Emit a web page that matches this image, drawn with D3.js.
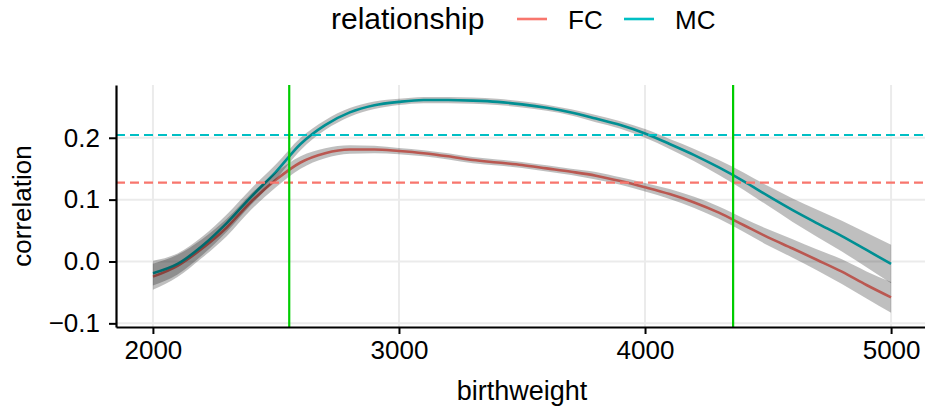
<!DOCTYPE html>
<html><head><meta charset="utf-8">
<script src="https://cdn.jsdelivr.net/npm/d3@7"></script>
<style>
body{margin:0;background:#fff}
svg{display:block}
text{font-family:"Liberation Sans",Arial,Helvetica,sans-serif;fill:#000}
</style>
</head><body>
<svg id="chart" width="925" height="411"></svg>
<script>
// ---- data ----
const birthweight = [2000,2100,2200,2300,2400,2500,2600,2700,2800,2900,3000,3100,3200,3300,3400,3500,3600,3700,3800,3900,4000,4100,4200,4300,4400,4500,4600,4700,4800,4900,5000];
const mcCorr = [-0.019,-0.004,0.025,0.062,0.105,0.145,0.190,0.2205,0.241,0.2525,0.258,0.261,0.261,0.260,0.258,0.254,0.2485,0.241,0.231,0.2205,0.207,0.190,0.172,0.152,0.130,0.106,0.083,0.0617,0.041,0.0186,-0.004];
const mcHalfWidth = [0.020,0.017,0.015,0.014,0.013,0.012,0.010,0.008,0.007,0.006,0.005,0.005,0.005,0.005,0.005,0.005,0.005,0.005,0.006,0.006,0.007,0.008,0.010,0.012,0.014,0.016,0.019,0.022,0.025,0.028,0.031];
const fcCorr = [-0.0245,-0.007,0.021,0.055,0.097,0.132,0.160,0.175,0.181,0.181,0.1785,0.175,0.170,0.164,0.160,0.156,0.1505,0.145,0.1387,0.130,0.120,0.109,0.0955,0.079,0.059,0.039,0.021,0.0024,-0.0165,-0.038,-0.058];
const fcHalfWidth = [0.021,0.018,0.015,0.014,0.013,0.012,0.010,0.008,0.007,0.006,0.005,0.005,0.005,0.005,0.005,0.005,0.005,0.005,0.006,0.006,0.007,0.008,0.009,0.010,0.011,0.013,0.015,0.017,0.020,0.022,0.025];
const seriesNames = ["FC","MC"];
const seriesColors = ["#F8766D","#00BFC4"];
const meanCorr = [0.1274, 0.2045];      // dashed reference lines (FC, MC)
const cutoffs = [2554, 4358];           // green vertical lines
const xTicks = [2000,3000,4000,5000];
const yTicks = [-0.1,0.0,0.1,0.2];
const xTitle = "birthweight", yTitle = "correlation", legendTitle = "relationship";

// ---- layout ----
const svg = d3.select("#chart");
const panel = {left:116, right:928, top:85, bottom:327};
const x = d3.scaleLinear().domain([1850,5150]).range([panel.left, panel.right]);
const y = d3.scaleLinear().domain([-0.1059,0.2853]).range([panel.bottom, panel.top]);

const series = [
  {name:seriesNames[0], color:seriesColors[0], values:fcCorr, hw:fcHalfWidth},
  {name:seriesNames[1], color:seriesColors[1], values:mcCorr, hw:mcHalfWidth}
];

// grid
const grid = svg.append("g");
grid.selectAll(".gx").data(xTicks).join("line")
  .attr("x1", d=>x(d)).attr("x2", d=>x(d)).attr("y1", panel.top).attr("y2", panel.bottom)
  .attr("stroke","#ebebeb").attr("stroke-width",2);
grid.selectAll(".gy").data(yTicks).join("line")
  .attr("x1", panel.left).attr("x2", panel.right).attr("y1", d=>y(d)).attr("y2", d=>y(d))
  .attr("stroke","#ebebeb").attr("stroke-width",2);

// lines
const line = d3.line().curve(d3.curveMonotoneX).x((d,i)=>x(birthweight[i])).y(d=>y(d));
svg.append("g").selectAll("path").data(series).join("path")
  .attr("d", s=>line(s.values)).attr("fill","none")
  .attr("stroke", s=>s.color).attr("stroke-width",2.6).attr("stroke-linejoin","round");

// ribbons (drawn on top, darkening the lines)
const area = d3.area().curve(d3.curveMonotoneX).x(d=>x(d.bw)).y0(d=>y(d.lo)).y1(d=>y(d.hi));
svg.append("g").selectAll("path").data(series).join("path")
  .attr("d", s=>area(birthweight.map((bw,i)=>({bw, lo:s.values[i]-s.hw[i], hi:s.values[i]+s.hw[i]}))))
  .attr("fill","#000").attr("fill-opacity",0.25);

// dashed mean lines
svg.append("g").selectAll("line").data(series).join("line")
  .attr("x1", panel.left).attr("x2", panel.right)
  .attr("y1", (s,i)=>y(meanCorr[i])).attr("y2", (s,i)=>y(meanCorr[i]))
  .attr("stroke", s=>s.color).attr("stroke-width",2.2).attr("stroke-dasharray","9,5");

// cutoff lines
svg.append("g").selectAll("line").data(cutoffs).join("line")
  .attr("x1", d=>x(d)).attr("x2", d=>x(d)).attr("y1", panel.top).attr("y2", panel.bottom)
  .attr("stroke","#00CD00").attr("stroke-width",2.2);

// axes
const fmt = d3.format(".1f");
const yAxis = svg.append("g").attr("transform",`translate(${panel.left},0)`)
  .call(d3.axisLeft(y).tickValues(yTicks).tickSize(7).tickSizeOuter(0).tickPadding(9).tickFormat(fmt));
const xAxis = svg.append("g").attr("transform",`translate(0,${panel.bottom})`)
  .call(d3.axisBottom(x).tickValues(xTicks).tickSize(7).tickSizeOuter(0).tickPadding(7).tickFormat(d3.format("d")));
[xAxis,yAxis].forEach(a=>{
  a.select(".domain").attr("stroke","#000").attr("stroke-width",2.2);
  a.selectAll(".tick line").attr("stroke","#000").attr("stroke-width",2);
  a.selectAll(".tick text").attr("font-size",26).attr("fill","#000")
    .attr("font-family",'"Liberation Sans",Arial,sans-serif');
});

// axis titles
svg.append("text").attr("x",(panel.left+panel.right)/2).attr("y",400)
  .attr("text-anchor","middle").attr("font-size",27).text(xTitle);
svg.append("text").attr("transform","translate(31,206) rotate(-90)")
  .attr("text-anchor","middle").attr("font-size",26).text(yTitle);

// legend
const lg = svg.append("g");
lg.append("text").attr("x",331).attr("y",29).attr("font-size",30).text(legendTitle);
const keyX = [517, 624], labX = [568, 675];
series.forEach((s,i)=>{
  lg.append("line").attr("x1",keyX[i]).attr("x2",keyX[i]+30).attr("y1",19).attr("y2",19)
    .attr("stroke",s.color).attr("stroke-width",2.6);
  lg.append("text").attr("x",labX[i]).attr("y",29).attr("font-size",26).text(s.name);
});
</script>
</body></html>
